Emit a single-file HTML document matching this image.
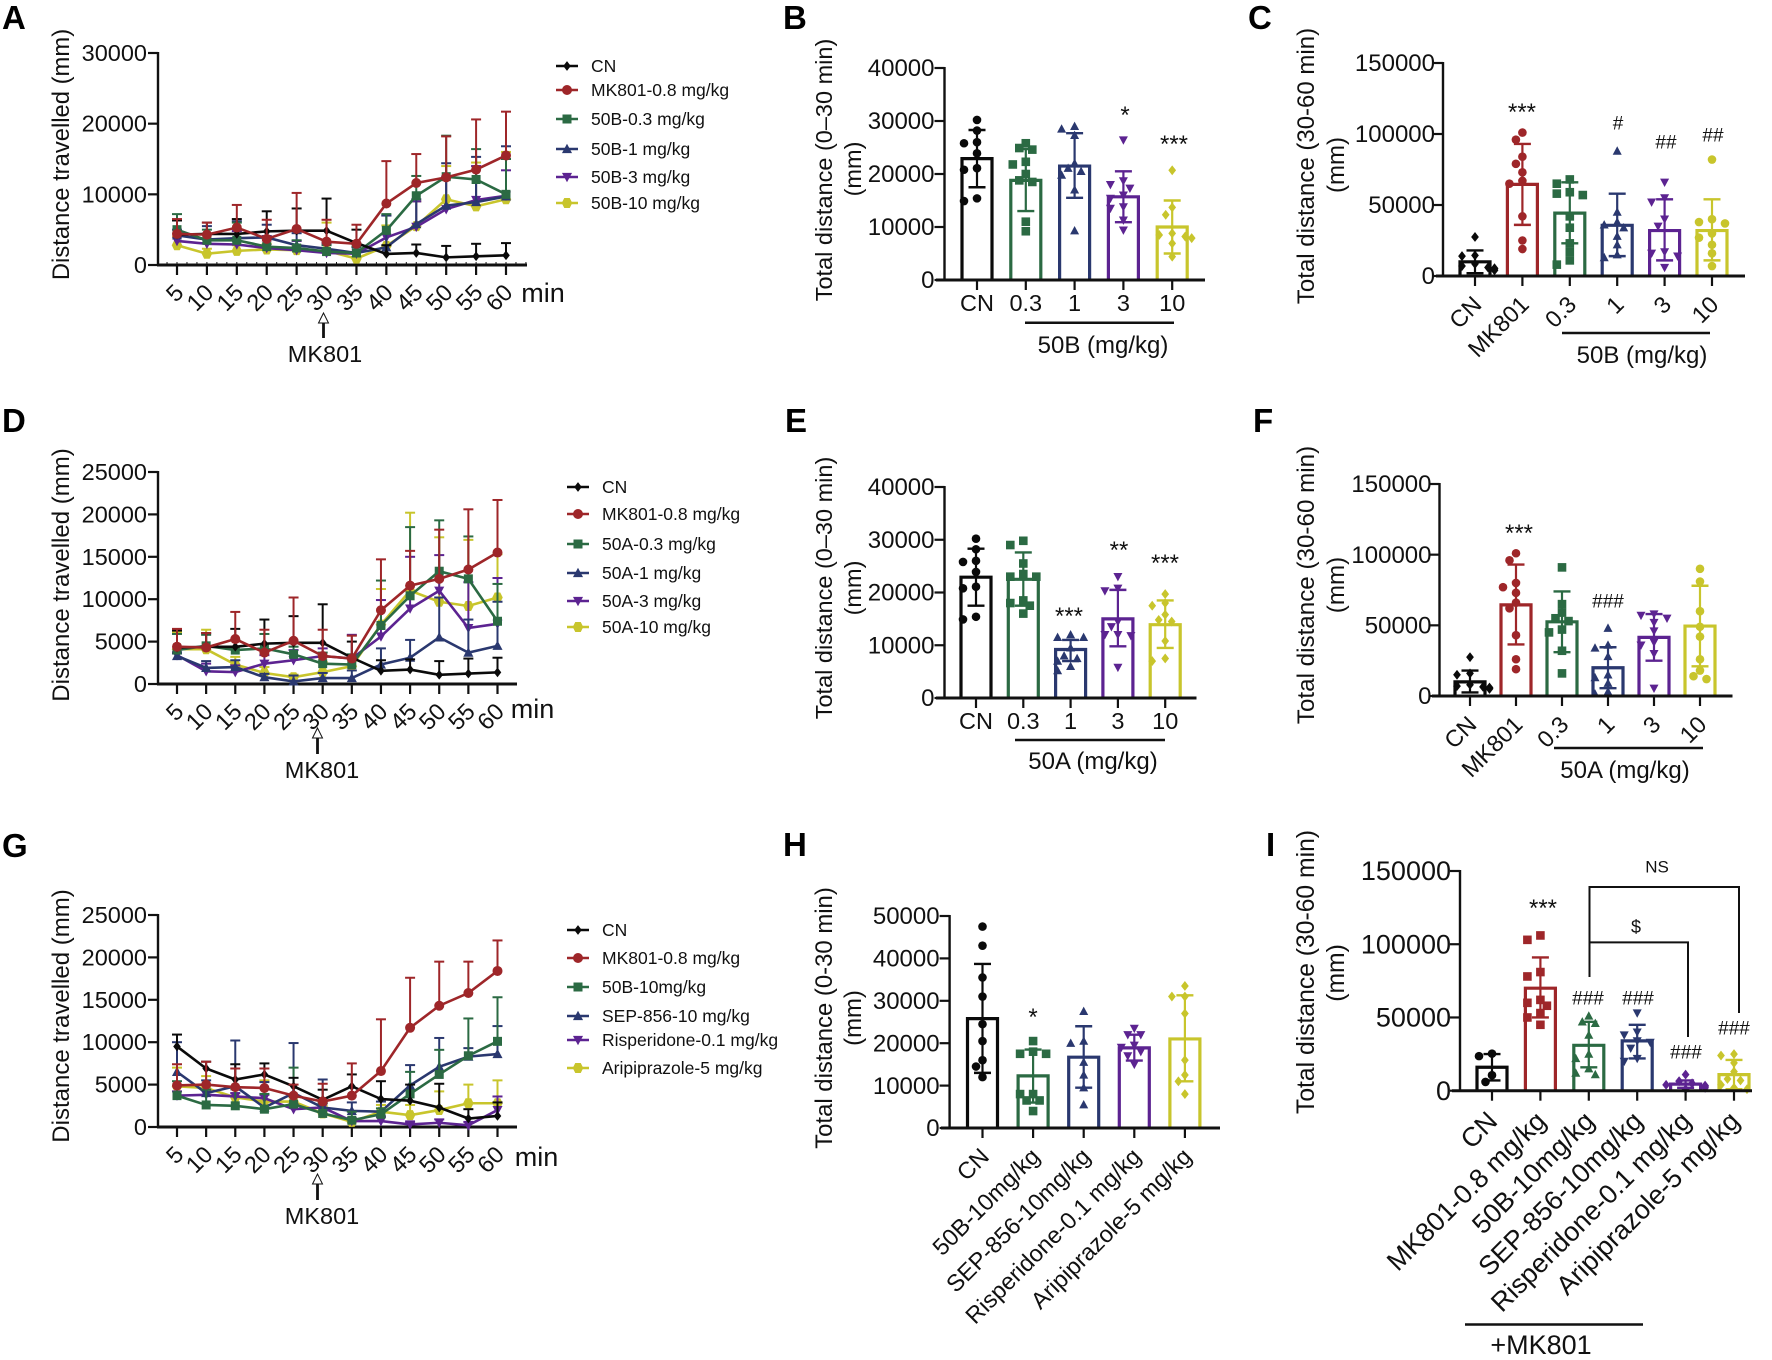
<!DOCTYPE html>
<html lang="en">
<head>
<meta charset="utf-8">
<title>Locomotor activity figure</title>
<style>
html,body{margin:0;padding:0;background:#fff;}
svg{display:block;font-family:"Liberation Sans",sans-serif;}
.plabel{font-weight:bold;font-size:33px;fill:#000;}
.atitle{font-size:23.5px;fill:#111;text-anchor:middle;}
.note{font-size:24px;fill:#111;text-anchor:middle;}
.unit{font-size:27px;fill:#111;text-anchor:middle;}
.sig{font-size:19px;fill:#111;text-anchor:middle;dominant-baseline:central;}
.star{font-size:24px;transform:translateY(5.5px);}
</style>
</head>
<body>
<svg id="figure" xmlns="http://www.w3.org/2000/svg" width="1772" height="1360" viewBox="0 0 1772 1360">
<rect width="1772" height="1360" fill="#fff"/>
<text class="plabel" x="2" y="29">A</text>
<text class="plabel" x="783" y="29">B</text>
<text class="plabel" x="1248" y="29">C</text>
<text class="plabel" x="2" y="432">D</text>
<text class="plabel" x="785" y="432">E</text>
<text class="plabel" x="1253" y="432">F</text>
<text class="plabel" x="2" y="857">G</text>
<text class="plabel" x="783" y="856">H</text>
<text class="plabel" x="1266" y="856">I</text>

<text class="atitle" style="font-size:23.8px" transform="translate(69,154.5) rotate(-90)">Distance travelled (mm)</text>
<text class="atitle" style="font-size:24px" transform="translate(69,575) rotate(-90)">Distance travelled (mm)</text>
<text class="atitle" style="font-size:24px" transform="translate(69,1016) rotate(-90)">Distance travelled (mm)</text>

<text class="atitle" transform="translate(832,170) rotate(-90)">Total distance (0–30 min)</text>
<text class="atitle" transform="translate(861,169) rotate(-90)">(mm)</text>
<text class="atitle" style="font-size:24px" transform="translate(1314,166) rotate(-90)">Total distance (30-60 min)</text>
<text class="atitle" style="font-size:24px" transform="translate(1344,165) rotate(-90)">(mm)</text>
<text class="atitle" transform="translate(832,588) rotate(-90)">Total distance (0–30 min)</text>
<text class="atitle" transform="translate(861,588) rotate(-90)">(mm)</text>
<text class="atitle" style="font-size:24.2px" transform="translate(1314,585) rotate(-90)">Total distance (30-60 min)</text>
<text class="atitle" style="font-size:24.2px" transform="translate(1344,585) rotate(-90)">(mm)</text>
<text class="atitle" style="font-size:23.9px" transform="translate(832,1018) rotate(-90)">Total distance (0-30 min)</text>
<text class="atitle" style="font-size:23.9px" transform="translate(861,1018) rotate(-90)">(mm)</text>
<text class="atitle" style="font-size:24.7px" transform="translate(1314,972) rotate(-90)">Total distance (30-60 min)</text>
<text class="atitle" style="font-size:24.7px" transform="translate(1344,973) rotate(-90)">(mm)</text>

<text class="unit" x="543" y="302">min</text>
<text class="unit" x="532.5" y="718">min</text>
<text class="unit" x="536.5" y="1166">min</text>

<g fill="#fff" stroke="#111" stroke-width="1">
<path d="M323.5 313 L318.5 323 L328.5 323 Z"/><line x1="323.5" y1="323" x2="323.5" y2="338" stroke-width="2.8"/></g>
<g fill="#fff" stroke="#111" stroke-width="1">
<path d="M317.5 728 L312.5 738 L322.5 738 Z"/><line x1="317.5" y1="738" x2="317.5" y2="754" stroke-width="2.8"/></g>
<g fill="#fff" stroke="#111" stroke-width="1">
<path d="M317.5 1174 L312.5 1184 L322.5 1184 Z"/><line x1="317.5" y1="1184" x2="317.5" y2="1200" stroke-width="2.8"/></g>
<text class="note" style="font-size:23.5px" x="325" y="362">MK801</text>
<text class="note" style="font-size:23.5px" x="322" y="778">MK801</text>
<text class="note" style="font-size:23.5px" x="322" y="1224">MK801</text>

<line x1="1025" y1="322.7" x2="1174" y2="322.7" stroke="#111" stroke-width="2.5"/>
<text class="note" x="1103" y="353">50B (mg/kg)</text>
<line x1="1562" y1="333" x2="1710" y2="333" stroke="#111" stroke-width="2.5"/>
<text class="note" x="1642" y="363">50B (mg/kg)</text>
<line x1="1015" y1="740" x2="1165" y2="740" stroke="#111" stroke-width="2.5"/>
<text class="note" x="1093" y="769">50A (mg/kg)</text>
<line x1="1554" y1="748" x2="1703" y2="748" stroke="#111" stroke-width="2.5"/>
<text class="note" x="1625" y="778">50A (mg/kg)</text>
<line x1="1465" y1="1324.5" x2="1643" y2="1324.5" stroke="#111" stroke-width="2.5"/>
<text class="note" style="font-size:27px" x="1541" y="1354">+MK801</text>

<text class="sig star" x="1125" y="110">*</text>
<text class="sig star" x="1174" y="139">***</text>
<text class="sig star" x="1522" y="107">***</text>
<text class="sig" x="1618" y="124">#</text>
<text class="sig" x="1666" y="143">##</text>
<text class="sig" x="1713" y="136">##</text>
<text class="sig star" x="1069" y="611">***</text>
<text class="sig star" x="1119" y="545">**</text>
<text class="sig star" x="1165" y="558">***</text>
<text class="sig star" x="1519" y="528">***</text>
<text class="sig" x="1608" y="602">###</text>
<text class="sig star" x="1033" y="1012">*</text>
<text class="sig star" x="1543" y="903">***</text>
<text class="sig" x="1588" y="999">###</text>
<text class="sig" x="1638" y="999">###</text>
<text class="sig" x="1686" y="1053">###</text>
<text class="sig" x="1734" y="1029">###</text>
<text class="sig" style="font-size:17px" x="1657" y="867">NS</text>
<text class="sig" style="font-size:18px" x="1636" y="927">$</text>
<path d="M1589.5 977 V887 H1739 V1013" fill="none" stroke="#111" stroke-width="2"/>
<path d="M1589.5 942.4 H1688 V1037" fill="none" stroke="#111" stroke-width="2"/>
<g id="charts"></g>
</svg>

<script>
/* ---------- Shared categories ---------- */
const timeCategories = [5,10,15,20,25,30,35,40,45,50,55,60];

/* ---------- Panel A ---------- */
const aTicks = [0,10000,20000,30000];
const aNames = ["CN","MK801-0.8 mg/kg","50B-0.3 mg/kg","50B-1 mg/kg","50B-3 mg/kg","50B-10 mg/kg"];
const aCN = [4290,4390,4390,4760,4860,4860,3110,1560,1700,1080,1230,1370];
const aCNUp = [6300,6000,6500,7600,8000,9400,5000,2800,2900,2700,3000,3100];
const aMK = [4400,4300,5300,3700,5100,3300,3000,8700,11600,12400,13500,15500];
const aMKUp = [6500,6000,8500,6400,10200,6400,5700,14700,15700,18200,20600,21700];
const a03 = [5000,3500,3500,2600,2400,1900,1700,4900,9800,12500,12100,10000];
const a03Up = [7200,5000,6000,4000,3500,2800,2600,7200,12600,18300,16400,15000];
const a1 = [4200,3600,3800,3900,2800,2300,1700,2500,5800,8400,8900,9700];
const a1Up = [6400,5500,6200,5700,4500,3200,2500,7000,9300,14400,15300,16800];
const a3 = [3400,3000,2900,2400,2100,1700,1600,3900,5400,7900,9200,9800];
const a3Up = [5000,4400,4800,4100,3400,3000,3000,7000,9000,12500,14000,13400];
const a10 = [2800,1600,2000,2200,2100,2000,900,2700,5500,9300,8300,9300];
const a10Up = [4000,2300,2800,3000,2800,6000,3000,5600,9000,14000,14500,16000];

/* ---------- Panel D ---------- */
const dTicks = [0,5000,10000,15000,20000,25000];
const dNames = ["CN","MK801-0.8 mg/kg","50A-0.3 mg/kg","50A-1 mg/kg","50A-3 mg/kg","50A-10 mg/kg"];
const dCN = [4290,4390,4390,4760,4860,4860,3110,1560,1700,1080,1230,1370];
const dCNUp = [6300,6000,6500,7600,8000,9400,5000,2800,2900,2700,3000,3100];
const dMK = [4400,4300,5300,3700,5100,3300,3000,8700,11600,12400,13500,15500];
const dMKUp = [6500,6000,8500,6400,10200,6400,5700,14700,15700,18200,20600,21700];
const d03 = [4000,4500,4000,4200,3500,2400,2300,6900,10400,13300,12400,7400];
const d03Up = [5900,5800,5200,5900,4400,3700,3500,12200,18500,19300,17400,11800];
const d1 = [3300,1900,2000,800,300,700,700,2300,3100,5500,3700,4500];
const d1Up = [3600,2700,2800,1200,1000,1300,1600,4200,5200,10200,7600,9700];
const d3 = [3400,1500,1400,2400,2800,3300,3000,5600,8900,11000,6600,7100];
const d3Up = [3700,2400,2200,3400,4000,4200,5800,9900,15000,15200,12000,12500];
const d10 = [4100,4100,2300,1300,800,1400,2100,7000,11000,9700,9200,10200];
const d10Up = [6100,6400,3200,2000,1100,2600,2900,11200,20200,17300,17000,15300];

/* ---------- Panel G ---------- */
const gTicks = [0,5000,10000,15000,20000,25000];
const gNames = ["CN","MK801-0.8 mg/kg","50B-10mg/kg","SEP-856-10 mg/kg","Risperidone-0.1 mg/kg","Aripiprazole-5 mg/kg"];
const gCN = [9500,6900,5600,6200,4800,3200,4800,3300,3100,2300,1000,1300];
const gCNUp = [10900,7700,7400,7500,5800,4400,6200,5400,5000,5100,2100,2900];
const gMK = [4900,5000,4700,4600,3700,3000,3700,6600,11700,14300,15800,18400];
const gMKUp = [7400,7700,6900,6900,5000,5100,7500,12700,17600,19500,19500,22000];
const g50B = [3700,2600,2500,2100,2700,1600,800,1500,3900,6200,8400,10100];
const g50BUp = [5400,4400,4700,3900,7000,2800,1800,2200,6500,9100,12800,15300];
const gSEP = [6500,4000,4800,2300,4000,2300,1900,1800,4900,7100,8300,8600];
const gSEPUp = [10000,5500,10200,5300,9900,5600,2900,3000,7300,10500,9300,11900];
const gRis = [3700,3800,3600,3400,2100,2300,700,700,300,500,200,2000];
const gRisUp = [4200,4400,4000,3800,2700,2800,1000,1200,600,900,600,3600];
const gAri = [4800,4600,3500,3000,3000,1600,600,1800,1400,2000,2800,2800];
const gAriUp = [7000,6000,4500,5500,3500,2500,1000,2600,2600,4200,5000,5500];

/* ---------- Panel B ---------- */
const bCategories = ["CN","0.3","1","3","10"];
const bTicks = [0,10000,20000,30000,40000];
const bMeans = [22900,18800,21500,15700,10000];
const bUpper = [28300,24700,27700,20500,15000];
const bLower = [17500,13000,15500,10900,5000];
const bPts0 = [30200,28200,26000,25800,23900,21100,20800,15400,14900];
const bPts1 = [25800,24900,24600,22300,21800,20000,18800,18500,11000,9200];
const bPts2 = [29000,28500,27300,22000,21100,20500,19800,17000,9300];
const bPts3 = [26400,18700,18000,17300,16000,15400,13800,13500,11300,9400];
const bPts4 = [20700,13700,12300,8800,8500,8200,7900,6900,4400];

/* ---------- Panel C ---------- */
const cCategories = ["CN","MK801","0.3","1","3","10"];
const cTicks = [0,50000,100000,150000];
const cMeans = [10000,64500,44300,35700,32000,32000];
const cUpper = [18000,93000,66000,58000,54000,54000];
const cLower = [2000,36000,23000,14000,11000,11000];
const cPts0 = [27500,14500,14000,8500,7000,6000,5500,5000,4000];
const cPts1 = [101000,96000,84000,79000,73000,67000,65000,42000,25000,19000];
const cPts2 = [68000,65000,59000,58000,57000,42000,34000,23000,17000,11000,8000];
const cPts3 = [88000,45000,38000,36000,34000,28000,22000,15000,13000];
const cPts4 = [66000,55000,52000,40000,35000,17000,16000,14000,6000];
const cPts5 = [82000,40000,38000,37000,30000,27000,22000,16000,7000];

/* ---------- Panel E ---------- */
const eCategories = ["CN","0.3","1","3","10"];
const eTicks = [0,10000,20000,30000,40000];
const eMeans = [22900,22500,9200,15000,13900];
const eUpper = [28300,27600,11000,20500,18500];
const eLower = [17500,17500,7000,9800,9500];
const ePts0 = [30200,28200,26000,25800,23900,21100,20800,15400,14900];
const ePts1 = [29800,29000,25500,23500,23000,23000,18500,18000,17500,16000];
const ePts2 = [12000,11500,11500,9500,8000,7500,7000,6000,5200];
const ePts3 = [23000,20800,20300,14500,13500,12000,12000,11800,5800];
const ePts4 = [19700,18000,17500,15800,14800,14500,10800,7500,7000];

/* ---------- Panel F ---------- */
const fCategories = ["CN","MK801","0.3","1","3","10"];
const fTicks = [0,50000,100000,150000];
const fMeans = [10000,64500,52500,20000,41500,49500];
const fUpper = [18000,93000,74000,34500,58000,78000];
const fLower = [2500,36500,31000,5500,25000,21000];
const fPts0 = [27500,16000,15000,8000,7000,6500,6000,5500,5000];
const fPts1 = [101000,96000,80000,77000,73000,66000,62000,43000,26000,19000];
const fPts2 = [91000,65000,59000,55000,53000,47000,45000,32000,16000];
const fPts3 = [48000,36000,34000,28000,15000,13000,9000,3000,1500];
const fPts4 = [58000,57000,55000,52000,46000,38000,36000,30000,5500];
const fPts5 = [90000,81000,60000,49000,42000,26000,18000,14000,12000];

/* ---------- Panel H ---------- */
const hCategories = ["CN","50B-10mg/kg","SEP-856-10mg/kg","Risperidone-0.1 mg/kg","Aripiprazole-5 mg/kg"];
const hTicks = [0,10000,20000,30000,40000,50000];
const hMeans = [25800,12300,16700,18900,21000];
const hUpper = [38700,18500,24000,22000,31300];
const hLower = [13000,6000,9500,15900,11000];
const hPts0 = [47500,43000,35500,31000,24500,20500,16000,14500,12000];
const hPts1 = [20500,18000,17500,17500,8000,8000,6500,6500,4000];
const hPts2 = [27500,20500,20000,15500,12500,9500,5500];
const hPts3 = [23500,22000,22000,19500,19000,18000,17000,15000];
const hPts4 = [33500,31000,31000,27000,16000,12500,11000,8000];

/* ---------- Panel I ---------- */
const iCategories = ["CN","MK801-0.8 mg/kg","50B-10mg/kg","SEP-856-10mg/kg","Risperidone-0.1 mg/kg","Aripiprazole-5 mg/kg"];
const iTicks = [0,50000,100000,150000];
const iMeans = [16000,70000,31000,34000,4500,11000];
const iUpper = [25000,91000,47000,45000,7000,21000];
const iLower = [7000,50000,16000,22000,2000,1000];
const iPts0 = [25300,23600,10600,6000];
const iPts1 = [106000,103000,81000,78000,62000,60000,58000,53000,50000,45000];
const iPts2 = [51000,47000,46000,38000,25000,22000,15000,12000,11000];
const iPts3 = [53000,40000,38000,34000,33000,29000,22000,20000];
const iPts4 = [11000,6500,5000,4000,3500,3000,2000,1000];
const iPts5 = [25000,24000,19000,13000,8000,7000,4000,2000,1000];

/* ---------- Drawing helpers ---------- */
const SVGNS = "http://www.w3.org/2000/svg";
const COLORS = ["#0a0a0a","#9e2629","#2b6a43","#2a386f","#5c2391","#c8c52c"];
const root = document.getElementById("charts");

function mk(parent, tag, attrs, name, text) {
  const el = document.createElementNS(SVGNS, tag);
  for (const k in attrs) el.setAttribute(k, attrs[k]);
  
  
  if (text !== undefined) el.textContent = text;
  parent.appendChild(el);
  return el;
}

function marker(parent, shape, x, y, s, color, name) {
  const a = { fill: color, stroke: "none" };
  if (shape === "circle") {
    a.cx = x; a.cy = y; a.r = s;
    return mk(parent, "circle", a, name);
  }
  let p;
  if (shape === "square") p = [[-s,-s],[s,-s],[s,s],[-s,s]];
  else if (shape === "tri") p = [[0,-s*1.1],[s*1.05,s*0.85],[-s*1.05,s*0.85]];
  else if (shape === "inv") p = [[0,s*1.1],[s*1.05,-s*0.85],[-s*1.05,-s*0.85]];
  else if (shape === "diamond") p = [[0,-s*1.15],[s*0.9,0],[0,s*1.15],[-s*0.9,0]];
  else p = [[-s*0.55,-s],[s*0.55,-s],[s*1.05,0],[s*0.55,s],[-s*0.55,s],[-s*1.05,0]];
  a.points = p.map(q => (x+q[0]) + "," + (y+q[1])).join(" ");
  return mk(parent, "polygon", a, name);
}

function yAxis(g, key, ticks, yScale, x, fs, gap) {
  mk(g, "line", {x1:x, x2:x, y1:yScale(ticks[ticks.length-1])-1, y2:yScale(0)+1, stroke:"#111", "stroke-width":2.4}, key + "-y-axis-line");
  ticks.forEach(function (t) {
    const yy = yScale(t);
    mk(g, "line", {x1:x-10, x2:x, y1:yy, y2:yy, stroke:"#111", "stroke-width":2.2}, key + "-y-tick-" + t);
    mk(g, "text", {x:x-gap, y:yy+fs*0.34, "text-anchor":"end", "font-size":fs, fill:"#111"}, key + "-y-tick-label-" + t, t);
  });
}

const LINE_SHAPES = ["diamond","circle","square","tri","inv","hex"];
const LINE_SIZES = [4.2,5,4.5,4.8,4.8,5];
const DRAW_ORDER = [5,4,3,2,0,1];

function lineChart(key, L, cats, ticks, names, series, uppers) {
  const g = mk(root, "g", {}, key);
  const max = ticks[ticks.length-1];
  const yScale = function (v) { return L.y0 - v / max * (L.y0 - L.yTop); };
  const xScale = function (i) { return L.xFirst + i * (L.xLast - L.xFirst) / (cats.length - 1); };
  yAxis(g, key, ticks, yScale, L.x0, 23.5, 11);
  mk(g, "line", {x1:L.x0-1, x2:L.xEnd, y1:L.y0, y2:L.y0, stroke:"#111", "stroke-width":3}, key + "-x-axis-line");
  if (L.minor) {
    const minorStep = (xScale(1) - xScale(0)) / 3;
    for (let mx = xScale(0) - minorStep; mx < L.xEnd; mx += minorStep) {
      mk(g, "line", {x1:mx, x2:mx, y1:L.y0-3, y2:L.y0, stroke:"#111", "stroke-width":1}, key + "-x-minor-tick");
    }
  }
  cats.forEach(function (c, i) {
    const xx = xScale(i);
    mk(g, "line", {x1:xx, x2:xx, y1:L.y0, y2:L.y0+10, stroke:"#111", "stroke-width":2.2}, key + "-x-tick-" + c);
    mk(g, "text", {x:xx+8, y:L.y0+29, "text-anchor":"end", "font-size":23.5, fill:"#111",
      transform:"rotate(-45 " + (xx+8) + " " + (L.y0+29) + ")"}, key + "-x-tick-label-" + c, c);
  });
  DRAW_ORDER.forEach(function (s) {
    const vals = series[s];
    const sg = mk(g, "g", {}, key + "-series-" + s);
    vals.forEach(function (v, i) {
      const xx = xScale(i), top = yScale(uppers[s][i]);
      mk(sg, "line", {x1:xx, x2:xx, y1:yScale(v), y2:top, stroke:COLORS[s], "stroke-width":2}, key + "-error-bar");
      mk(sg, "line", {x1:xx-5, x2:xx+5, y1:top, y2:top, stroke:COLORS[s], "stroke-width":2}, key + "-error-cap");
    });
    mk(sg, "polyline", {fill:"none", stroke:COLORS[s], "stroke-width":2.6,
      points: vals.map(function (v, i) { return xScale(i) + "," + yScale(v); }).join(" ")}, key + "-line-" + s);
    vals.forEach(function (v, i) {
      marker(sg, LINE_SHAPES[s], xScale(i), yScale(v), LINE_SIZES[s], COLORS[s], key + "-point");
    });
  });
  names.forEach(function (n, s) {
    const ly = L.legendY[s];
    const lg = mk(g, "g", {}, key + "-legend-entry-" + s);
    mk(lg, "line", {x1:L.legendX, x2:L.legendX+22, y1:ly, y2:ly, stroke:COLORS[s], "stroke-width":2.6}, key + "-legend-swatch");
    marker(lg, LINE_SHAPES[s], L.legendX+11, ly, LINE_SIZES[s], COLORS[s], key + "-legend-marker");
    mk(lg, "text", {x:L.legendX+35, y:ly+6, "font-size":17.5, fill:"#111"}, key + "-legend-label", n);
  });
}

function swarm(values, yScale) {
  const placed = [];
  const sorted = values.slice().sort(function (a, b) { return b - a; });
  sorted.forEach(function (v) {
    const yy = yScale(v);
    const steps = [0,-1,1,-2,2,-3,3];
    for (let k = 0; k < steps.length; k++) {
      const off = steps[k] * 6.5;
      const clash = placed.some(function (p) {
        return Math.hypot(p.off - off, p.yy - yy) < 8;
      });
      if (!clash || k === steps.length - 1) { placed.push({off: off, yy: yy}); break; }
    }
  });
  return placed;
}

function barChart(key, L, cats, ticks, means, upper, lower, points, shapes, colorIdx, rotated) {
  const g = mk(root, "g", {}, key);
  const max = ticks[ticks.length-1];
  const yScale = function (v) { return L.y0 - v / max * (L.y0 - L.yTop); };
  const xScale = function (i) { return L.xFirst + i * L.step; };
  yAxis(g, key, ticks, yScale, L.x0, L.tickFont, L.tickGap);
  cats.forEach(function (c, i) {
    const xx = xScale(i), col = COLORS[colorIdx[i]], bw = 30;
    const bg = mk(g, "g", {}, key + "-group-" + i);
    mk(bg, "path", {d:"M" + (xx-bw/2) + " " + L.y0 + " V" + yScale(means[i]) + " H" + (xx+bw/2) + " V" + L.y0,
      fill:"none", stroke:col, "stroke-width":3.2}, key + "-bar-" + i);
    const u = yScale(upper[i]), l = yScale(lower[i]);
    mk(bg, "line", {x1:xx, x2:xx, y1:u, y2:l, stroke:col, "stroke-width":2.2}, key + "-error-bar-" + i);
    mk(bg, "line", {x1:xx-8.5, x2:xx+8.5, y1:u, y2:u, stroke:col, "stroke-width":2.4}, key + "-error-cap-upper-" + i);
    mk(bg, "line", {x1:xx-8.5, x2:xx+8.5, y1:l, y2:l, stroke:col, "stroke-width":2.4}, key + "-error-cap-lower-" + i);
    swarm(points[i], yScale).forEach(function (p) {
      marker(bg, shapes[i], xx + p.off, p.yy, 4.3, col, key + "-data-point-" + i);
    });
    mk(g, "line", {x1:xx, x2:xx, y1:L.y0, y2:L.y0+10, stroke:"#111", "stroke-width":2.2}, key + "-x-tick-" + i);
    if (rotated) {
      mk(g, "text", {x:xx+L.labelDx, y:L.y0+L.labelDy, "text-anchor":"end", "font-size":L.labelFont, fill:"#111",
        transform:"rotate(-45 " + (xx+L.labelDx) + " " + (L.y0+L.labelDy) + ")"}, key + "-x-tick-label-" + i, c);
    } else {
      mk(g, "text", {x:xx, y:L.y0+31, "text-anchor":"middle", "font-size":23.5, fill:"#111"}, key + "-x-tick-label-" + i, c);
    }
  });
  mk(g, "line", {x1:L.xStart, x2:L.xEnd, y1:L.y0, y2:L.y0, stroke:"#111", "stroke-width":3}, key + "-x-axis-line");
}

/* ---------- Build panels ---------- */
lineChart("panel-a",
  {x0:158, xEnd:527, xFirst:177, xLast:506, y0:265, yTop:53, legendX:556, legendY:[66,90,119,149,177,203], minor:true},
  timeCategories, aTicks, aNames,
  [aCN,aMK,a03,a1,a3,a10], [aCNUp,aMKUp,a03Up,a1Up,a3Up,a10Up]);
lineChart("panel-d",
  {x0:158, xEnd:517, xFirst:177, xLast:497.5, y0:684, yTop:472, legendX:567, legendY:[487,514,544,573,601,627]},
  timeCategories, dTicks, dNames,
  [dCN,dMK,d03,d1,d3,d10], [dCNUp,dMKUp,d03Up,d1Up,d3Up,d10Up]);
lineChart("panel-g",
  {x0:158, xEnd:517, xFirst:177, xLast:497.5, y0:1127, yTop:915, legendX:567, legendY:[930,958,987,1016,1040,1068]},
  timeCategories, gTicks, gNames,
  [gCN,gMK,g50B,gSEP,gRis,gAri], [gCNUp,gMKUp,g50BUp,gSEPUp,gRisUp,gAriUp]);

barChart("panel-b",
  {x0:944.5, xStart:936, xEnd:1205, xFirst:977, step:48.8, y0:280, yTop:68, tickFont:24, tickGap:10},
  bCategories, bTicks, bMeans, bUpper, bLower, [bPts0,bPts1,bPts2,bPts3,bPts4],
  ["circle","square","tri","inv","diamond"], [0,2,3,4,5], false);
barChart("panel-c",
  {x0:1443, xStart:1436, xEnd:1745, xFirst:1475, step:47.4, y0:276, yTop:63, tickFont:24, tickGap:8, labelDx:8, labelDy:30, labelFont:23.5},
  cCategories, cTicks, cMeans, cUpper, cLower, [cPts0,cPts1,cPts2,cPts3,cPts4,cPts5],
  ["diamond","circle","square","tri","inv","circle"], [0,1,2,3,4,5], true);
barChart("panel-e",
  {x0:944.5, xStart:936, xEnd:1196.5, xFirst:976, step:47.3, y0:698, yTop:487, tickFont:24, tickGap:10},
  eCategories, eTicks, eMeans, eUpper, eLower, [ePts0,ePts1,ePts2,ePts3,ePts4],
  ["circle","square","tri","inv","diamond"], [0,2,3,4,5], false);
barChart("panel-f",
  {x0:1439.5, xStart:1432, xEnd:1732.5, xFirst:1470, step:46, y0:696, yTop:484, tickFont:24, tickGap:8, labelDx:8, labelDy:30, labelFont:23.5},
  fCategories, fTicks, fMeans, fUpper, fLower, [fPts0,fPts1,fPts2,fPts3,fPts4,fPts5],
  ["diamond","circle","square","tri","inv","circle"], [0,1,2,3,4,5], true);
barChart("panel-h",
  {x0:949.6, xStart:941, xEnd:1220, xFirst:982.5, step:50.6, y0:1128, yTop:916, tickFont:24, tickGap:10, labelDx:8, labelDy:30, labelFont:23.5},
  hCategories, hTicks, hMeans, hUpper, hLower, [hPts0,hPts1,hPts2,hPts3,hPts4],
  ["circle","square","tri","inv","diamond"], [0,2,3,4,5], true);
barChart("panel-i",
  {x0:1460, xStart:1452, xEnd:1752, xFirst:1492, step:48.4, y0:1090.7, yTop:871, tickFont:27, tickGap:9, labelDx:7, labelDy:32, labelFont:26.8},
  iCategories, iTicks, iMeans, iUpper, iLower, [iPts0,iPts1,iPts2,iPts3,iPts4,iPts5],
  ["circle","square","tri","inv","diamond","diamond"], [0,1,2,3,4,5], true);
</script>
</body>
</html>
